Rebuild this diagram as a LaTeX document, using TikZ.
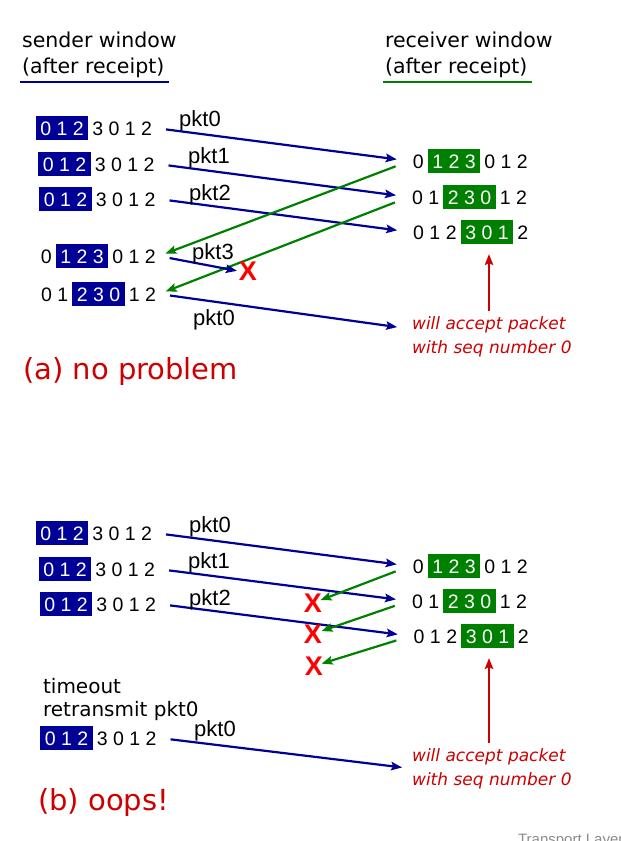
\documentclass[tikz,border=0pt]{standalone}
\usepackage{fontspec}
\setmainfont{DejaVu Sans}
\newfontfamily\arialfont{Liberation Sans}
\usetikzlibrary{arrows.meta,positioning}
\definecolor{navy}{RGB}{0,0,150}
\definecolor{ackgreen}{RGB}{0,128,0}
\definecolor{notered}{RGB}{204,0,0}
\definecolor{lossred}{RGB}{255,0,0}
\tikzset{
  seqnum/.style={font=\arialfont\fontsize{19.5}{20}\selectfont,inner sep=0pt,text height=14pt,text depth=0pt},
  sbox/.style={seqnum,fill=navy,text=white,inner xsep=4.5pt,minimum height=24pt},
  rbox/.style={seqnum,fill=ackgreen,text=white,inner xsep=4.5pt,minimum height=24pt},
  seqrest/.style={seqnum,inner xsep=2pt},
  head/.style={font=\fontsize{20.5}{22}\selectfont,inner xsep=1pt,inner ysep=3.5pt},
  underline/.style={line width=2.2pt,shorten >=-3pt},
  pktlabel/.style={font=\arialfont\fontsize{22}{24}\selectfont,inner sep=0pt},
  pkt/.style={navy,->,shorten <=11pt,shorten >=13pt},
  ack/.style={ackgreen,->,shorten <=15pt,shorten >=7pt},
  lost/.style={font=\arialfont\bfseries\fontsize{27}{28}\selectfont,text=lossred,inner sep=0pt},
  note/.style={font=\itshape\fontsize{17}{24}\selectfont,text=notered,align=left,inner sep=0pt,anchor=north west},
  seqarrow/.style={notered,->,line width=1.8pt,shorten <=4pt,shorten >=9pt},
  caption/.style={font=\fontsize{29}{32}\selectfont,text=notered,inner sep=0pt,anchor=west},
  plaintext/.style={font=\fontsize{20}{22}\selectfont,inner sep=0pt,anchor=west}
}
\begin{document}
\begin{tikzpicture}[x=1pt,y=-1pt,line width=2.2pt,>={Stealth[length=11pt,width=8.5pt,inset=2pt]}]
  \useasboundingbox (0,0) rectangle (621,841);
  \node[head,anchor=base west] (sndtitle) at (20,47) {sender window};
  \node[head,anchor=base west] (sndsub) at (20,73) {(after receipt)};
  \draw[underline,draw=navy] (sndsub.south west)--(sndsub.south east);
  \node[head,anchor=base west] (rcvtitle) at (383,47) {receiver window};
  \node[head,anchor=base west] (rcvsub) at (383,73) {(after receipt)};
  \draw[underline,draw=ackgreen] (rcvsub.south west)--(rcvsub.south east);

  % (a) no problem
  \node[sbox] (sa1) at (62,128) {0 1 2};
  \node[seqrest,right=0pt of sa1] (sa1t) {3 0 1 2};
  \node[sbox] (sa2) at (64.5,164) {0 1 2};
  \node[seqrest,right=0pt of sa2] (sa2t) {3 0 1 2};
  \node[sbox] (sa3) at (65.5,199) {0 1 2};
  \node[seqrest,right=0pt of sa3] (sa3t) {3 0 1 2};
  \node[sbox] (sa4) at (82,256) {1 2 3};
  \node[seqrest,left=0pt of sa4] (sa4p) {0};
  \node[seqrest,right=0pt of sa4] (sa4t) {0 1 2};
  \node[sbox] (sa5) at (98.5,294) {2 3 0};
  \node[seqrest,left=0pt of sa5] (sa5p) {0 1};
  \node[seqrest,right=0pt of sa5] (sa5t) {1 2};

  \node[rbox] (ra1) at (454,161) {1 2 3};
  \node[seqrest,left=0pt of ra1] (ra1p) {0};
  \node[seqrest,right=0pt of ra1] (ra1t) {0 1 2};
  \node[rbox] (ra2) at (469.5,197) {2 3 0};
  \node[seqrest,left=0pt of ra2] (ra2p) {0 1};
  \node[seqrest,right=0pt of ra2] (ra2t) {1 2};
  \node[rbox] (ra3) at (487,232) {3 0 1};
  \node[seqrest,left=0pt of ra3] (ra3p) {0 1 2};
  \node[seqrest,right=0pt of ra3] (ra3t) {2};

  \draw[pkt] (sa1t.east)--(ra1p.west);
  \draw[pkt] (sa2t.east)--(ra2p.west);
  \draw[pkt] (sa3t.east)--(ra3p.west);
  \draw[ack] (ra1p.west)--(sa4t.east);
  \draw[ack] (ra2p.west)--(sa5t.east);
  \node[lost] (lossa) at (248,271) {X};
  \draw[pkt,shorten >=1pt] (sa4t.east)--(lossa.west);
  \node[note] (notea) at (411,315) {will accept packet\\with seq number 0};
  \coordinate (acca) at (411,329);
  \draw[pkt,shorten >=14pt] (sa5t.east)--(acca);
  \draw[seqarrow] ([xshift=2pt]ra3.south |- notea.north)--([xshift=2pt]ra3.south);

  \node[pktlabel] (la0) at (200,121) {pkt0};
  \node[pktlabel] (la1) at (209,158) {pkt1};
  \node[pktlabel] (la2) at (210,195) {pkt2};
  \node[pktlabel] (la3) at (213,254) {pkt3};
  \node[pktlabel] (la4) at (214,320) {pkt0};
  \node[caption] (capa) at (22,371) {(a) no problem};

  % (b) oops!
  \node[sbox] (sb1) at (62,533) {0 1 2};
  \node[seqrest,right=0pt of sb1] (sb1t) {3 0 1 2};
  \node[sbox] (sb2) at (65,569) {0 1 2};
  \node[seqrest,right=0pt of sb2] (sb2t) {3 0 1 2};
  \node[sbox] (sb3) at (66,604) {0 1 2};
  \node[seqrest,right=0pt of sb3] (sb3t) {3 0 1 2};
  \node[plaintext] (timeout) at (42,686) {timeout};
  \node[plaintext] (retx) at (42,711) {retransmit pkt0};
  \node[sbox] (sb4) at (66.5,738) {0 1 2};
  \node[seqrest,right=0pt of sb4] (sb4t) {3 0 1 2};

  \node[rbox] (rb1) at (454,566) {1 2 3};
  \node[seqrest,left=0pt of rb1] (rb1p) {0};
  \node[seqrest,right=0pt of rb1] (rb1t) {0 1 2};
  \node[rbox] (rb2) at (469.5,601) {2 3 0};
  \node[seqrest,left=0pt of rb2] (rb2p) {0 1};
  \node[seqrest,right=0pt of rb2] (rb2t) {1 2};
  \node[rbox] (rb3) at (487.5,636) {3 0 1};
  \node[seqrest,left=0pt of rb3] (rb3p) {0 1 2};
  \node[seqrest,right=0pt of rb3] (rb3t) {2};

  \draw[pkt] (sb1t.east)--(rb1p.west);
  \draw[pkt] (sb2t.east)--(rb2p.west);
  \draw[pkt] (sb3t.east)--(rb3p.west);
  \node[lost] (lossb1) at (313,603) {X};
  \node[lost] (lossb2) at (313,634) {X};
  \node[lost] (lossb3) at (314,666) {X};
  \draw[ack,shorten >=8pt] (rb1p.west)--(lossb1.center);
  \draw[ack,shorten >=9pt] (rb2p.west)--(lossb2.center);
  \draw[ack,shorten >=8pt] (rb3p.west)--(lossb3.center);
  \node[note] (noteb) at (411,747) {will accept packet\\with seq number 0};
  \coordinate (accb) at (415,769);
  \draw[pkt] (sb4t.east)--(accb);
  \draw[seqarrow] ([xshift=1.5pt]rb3.south |- noteb.north)--([xshift=1.5pt]rb3.south);

  \node[pktlabel] (lb0) at (210,527) {pkt0};
  \node[pktlabel] (lb1) at (209,563) {pkt1};
  \node[pktlabel] (lb2) at (210,600) {pkt2};
  \node[pktlabel] (lb4) at (215,731) {pkt0};
  \node[caption] (capb) at (37,802) {(b) oops!};

  \node[font=\arialfont\fontsize{15}{16}\selectfont,text=black!45,inner sep=0pt,anchor=north west] (footer) at (517,833) {Transport Layer};
\end{tikzpicture}
\end{document}
